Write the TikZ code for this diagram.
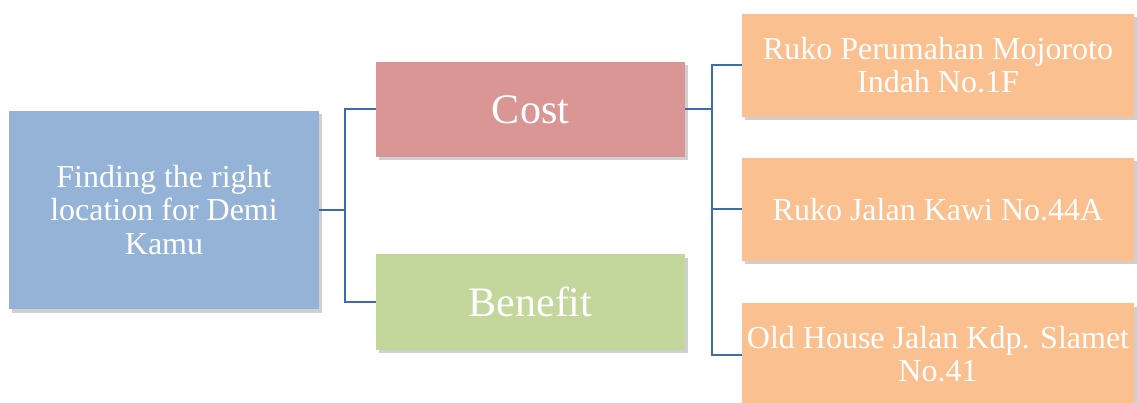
\documentclass[tikz,border=0pt]{standalone}
\usepackage{fontspec}
\setmainfont{Liberation Serif}
\usetikzlibrary{shadows}
\definecolor{rootc}{HTML}{95B3D7}
\definecolor{costc}{HTML}{D99694}
\definecolor{benc}{HTML}{C3D69B}
\definecolor{locc}{HTML}{FAC090}
\definecolor{linec}{HTML}{3F6CA8}
\tikzset{
  boxbase/.style={rectangle, inner sep=2pt, align=center, text=white,
    drop shadow={opacity=0.38, shadow xshift=2.5pt, shadow yshift=-3.5pt}},
  rootbox/.style={boxbase, fill=rootc, minimum width=310pt, minimum height=198pt,
    font=\fontsize{32}{33.5}\selectfont},
  catbox/.style={boxbase, minimum width=309pt, minimum height=95pt,
    font=\fontsize{42}{44}\selectfont},
  locbox/.style={boxbase, fill=locc, minimum width=392pt, minimum height=103pt,
    font=\fontsize{32}{33}\selectfont},
  conn/.style={draw=linec, line width=2pt},
}
\begin{document}
\begin{tikzpicture}[x=1pt,y=-1pt]
\useasboundingbox (0,0) rectangle (1137,403);
\node[rootbox] (root) at (164,210) {Finding the right\\location for Demi\\Kamu};
\node[catbox, fill=costc] (cost) at (530.5,109.5) {Cost};
\node[catbox, fill=benc] (ben) at (530.5,302) {Benefit};
\node[locbox] (l1) at (938,65.5) {Ruko Perumahan Mojoroto\\Indah No.1F};
\node[locbox] (l2) at (938,209.5) {Ruko Jalan Kawi No.44A};
\node[locbox] (l3) at (938,354.5) {Old House Jalan Kdp. Slamet\\No.41};
\coordinate (j1) at (345,0);
\coordinate (j2) at (712,0);
\draw[conn] (root.east) -- (root.east -| j1) |- (cost.west);
\draw[conn] (root.east -| j1) |- (ben.west);
\draw[conn] (cost.east) -- (cost.east -| j2) |- (l1.west);
\draw[conn] (cost.east -| j2) |- (l2.west);
\draw[conn] (cost.east -| j2) |- (l3.west);
\end{tikzpicture}
\end{document}
